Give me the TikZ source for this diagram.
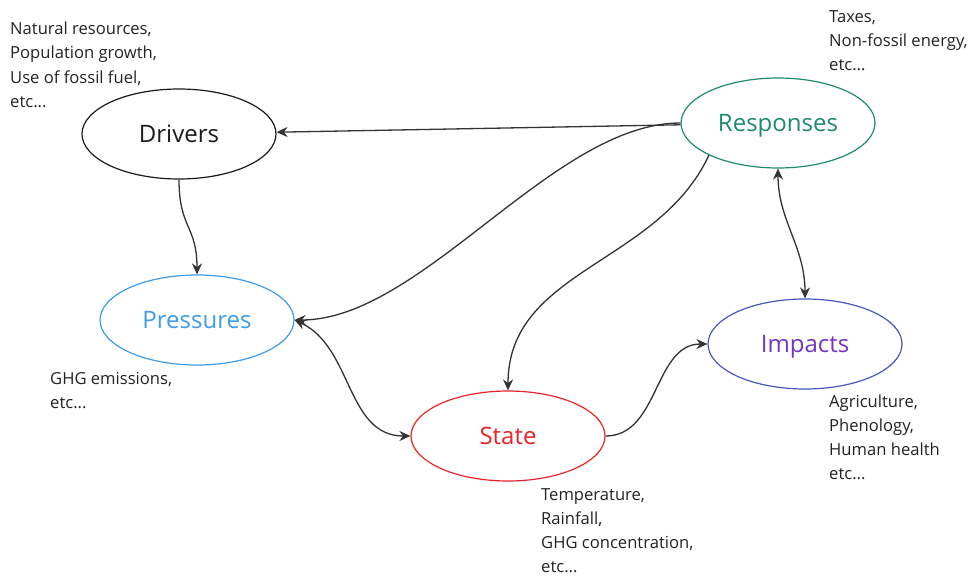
\documentclass[tikz,border=0pt]{standalone}
\usepackage{fontspec}
\setmainfont{Open Sans}
\usetikzlibrary{shapes.geometric,arrows.meta}

\definecolor{drvcol}{HTML}{1A1A1A}
\definecolor{rspcol}{HTML}{1F8A6C}
\definecolor{prscol}{HTML}{3D9CEB}
\definecolor{impline}{HTML}{4A55BE}
\definecolor{imptext}{HTML}{7434C4}
\definecolor{stacol}{HTML}{E8232A}
\definecolor{linkcol}{HTML}{333333}
\definecolor{notecol}{HTML}{222222}

\begin{document}
\begin{tikzpicture}[x=1pt,y=-1pt,>={Stealth[length=11pt,width=10pt]}]
      \useasboundingbox (0,0) rectangle (973,575);

      \begin{scope}[every node/.style={ellipse,draw,line width=1.2pt,minimum width=194pt,
          minimum height=90pt,inner sep=0pt,text height=17pt,text depth=0pt,
          font=\fontsize{24}{28}\selectfont}]
        \node[draw=drvcol,text=drvcol]   (drv) at (179,134) {Drivers};
        \node[draw=rspcol,text=rspcol]   (rsp) at (778,123) {Responses};
        \node[draw=prscol,text=prscol]   (prs) at (197,320) {Pressures};
        \node[draw=impline,text=imptext] (imp) at (805,344) {Impacts};
        \node[draw=stacol,text=stacol]   (sta) at (508,436) {State};
      \end{scope}

      % notes: placed at the baseline of their last line
      \begin{scope}[every node/.style={anchor=base west,align=left,inner sep=0pt,
          text=notecol,font=\fontsize{16.6}{24}\selectfont}]
        \node (drv-note) at (10,107)  {Natural resources,\\Population growth,\\Use of fossil fuel,\\etc...};
        \node (rsp-note) at (829,71)  {Taxes,\\Non-fossil energy,\\etc...};
        \node (prs-note) at (50,408)  {GHG emissions,\\etc...};
        \node (imp-note) at (829,479) {Agriculture,\\Phenology,\\Human health\\etc...};
        \node (sta-note) at (541,572) {Temperature,\\Rainfall,\\GHG concentration,\\etc...};
      \end{scope}

      \begin{scope}[every edge/.style={draw=linkcol,line width=1.3pt,->}]
        \path (rsp) edge (drv);
        \path (drv) edge[out=-90,in=90,looseness=1.3] (prs);
        \path (rsp) edge[out=180,in=0,looseness=0.75] (prs);
        \path (rsp.205) edge[out=-115,in=90] (sta);
        \path (prs.east) edge[<->,out=-25,in=180] (sta);
        \path (sta) edge[out=0,in=180] (imp);
        \path (rsp) edge[<->,out=-90,in=90] (imp);
      \end{scope}

    \end{tikzpicture}
\end{document}
